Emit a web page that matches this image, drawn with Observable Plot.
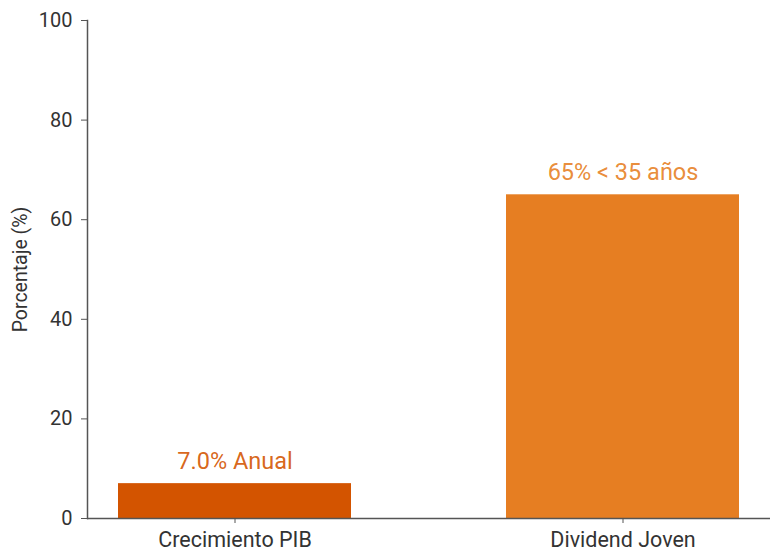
<!DOCTYPE html>
<html>
<head>
<meta charset="utf-8">
<script src="https://cdn.jsdelivr.net/npm/d3@7"></script>
<script src="https://cdn.jsdelivr.net/npm/@observablehq/plot@0.6"></script>
<style>
  html, body { margin: 0; padding: 0; background: #fff; }
</style>
</head>
<body>
<div id="chart"></div>
<script>
const categories = ["Crecimiento PIB", "Dividend Joven"];
const values = [7.0, 65];
const barLabels = ["7.0% Anual", "65% < 35 años"];
const colors = ["#D35400", "#E67E22"];
const yTicks = [0, 20, 40, 60, 80, 100];
const yLabel = "Porcentaje (%)";

const data = categories.map((c, i) => ({cat: c, value: values[i], label: barLabels[i], color: colors[i]}));

const chart = Plot.plot({
  width: 770,
  height: 551,
  marginLeft: 87,
  marginRight: 0,
  marginTop: 20,
  marginBottom: 33,
  style: {fontFamily: "Roboto, 'Open Sans', sans-serif", color: "#333", background: "#fff"},
  x: {domain: categories, paddingInner: 0.4, paddingOuter: 0.08},
  y: {domain: [0, 100]},
  marks: [
    Plot.barY(data, {x: "cat", y: "value", fill: "color"}),
    Plot.text(data, {x: "cat", y: "value", text: "label", fill: "color", fillOpacity: 0.9, dy: -22, fontSize: 23.5, lineAnchor: "middle", textAnchor: "middle"}),
    Plot.frame({anchor: "left", stroke: "#555", strokeWidth: 1.5}),
    Plot.ruleY([0], {stroke: "#555", strokeWidth: 1.5}),
    Plot.axisY({ticks: yTicks, tickSize: 6, tickPadding: 9, fontSize: 20, stroke: "#555", fill: "#333", label: null}),
    Plot.text([yLabel], {frameAnchor: "left", text: d => d, rotate: -90, dx: -67, fontSize: 19.5, fill: "#333", textAnchor: "middle", lineAnchor: "middle"}),
    Plot.axisX({tickSize: 5, tickPadding: 8, fontSize: 21.5, stroke: "#555", fill: "#333", label: null})
  ]
});
document.getElementById("chart").appendChild(chart);
</script>
</body>
</html>
